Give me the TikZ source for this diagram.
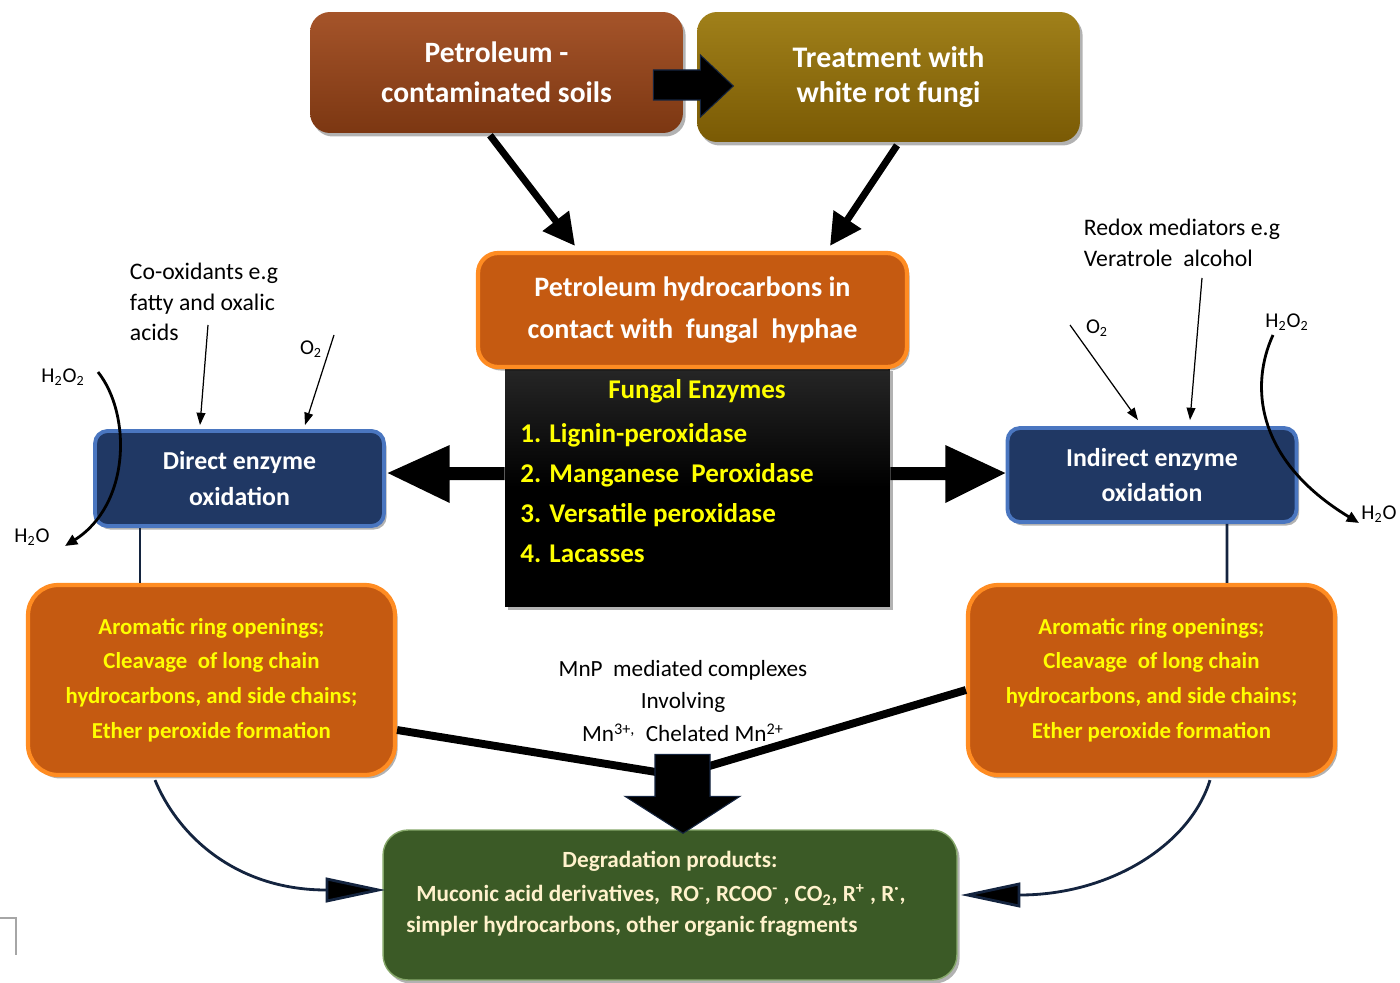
\documentclass[tikz,border=0pt]{standalone}
\usepackage{fontspec}
\setmainfont{Carlito}
\usetikzlibrary{arrows.meta,calc,shadows}
\definecolor{petA}{HTML}{A5542A}
\definecolor{petB}{HTML}{7C3712}
\definecolor{trA}{HTML}{A0801A}
\definecolor{trB}{HTML}{7A5A04}
\definecolor{orgfill}{HTML}{C55A11}
\definecolor{orgline}{HTML}{FF8C22}
\definecolor{navyfill}{HTML}{203864}
\definecolor{navyline}{HTML}{4A76C0}
\definecolor{grfill}{HTML}{3B5A26}
\definecolor{grline}{HTML}{86A86A}
\definecolor{cream}{HTML}{FFF2CC}
\definecolor{yel}{HTML}{FFFF00}
\definecolor{darknavy}{HTML}{14243F}
\begin{document}
\begin{tikzpicture}[x=0.02cm,y=-0.02cm,
  shd/.style={drop shadow={shadow xshift=1.5pt,shadow yshift=-2pt,opacity=.3,fill=black}},
  topbox/.style={rounded corners=0.4cm, text=white, align=center, shd, inner sep=0pt},
  hydbox/.style={rounded corners=0.4cm, fill=orgfill, draw=orgline, line width=2.4pt, text=white, align=center, shd, inner sep=0pt,
     font=\bfseries\fontsize{16}{23.8}\selectfont},
  enzbox/.style={top color=black!85, bottom color=black, middle color=black, shd, inner sep=0pt},
  oxbox/.style={rounded corners=0.25cm, fill=navyfill, draw=navyline, line width=2.2pt, text=white, align=center, shd, inner sep=0pt,
     font=\bfseries\fontsize{14.7}{20.4}\selectfont, minimum width=5.78cm, minimum height=1.9cm},
  resbox/.style={rounded corners=0.6cm, fill=orgfill, draw=orgline, line width=2.4pt, text=yel, align=center, shd, inner sep=0pt,
     font=\bfseries\fontsize{13}{19.8}\selectfont, minimum width=7.34cm, minimum height=3.8cm},
  grbox/.style={rounded corners=0.5cm, fill=grfill, draw=grline, line width=0.8pt, shd, inner sep=0pt},
  grtext/.style={text=cream, font=\bfseries\fontsize{13.2}{18.4}\selectfont, inner sep=0pt},
  enztext/.style={text=yel, font=\bfseries\fontsize{15.4}{22.7}\selectfont, inner sep=0pt},
  note/.style={text=black, font=\fontsize{13.5}{17.3}\selectfont, inner sep=0pt, align=left},
  chem/.style={text=black, font=\fontsize{12}{14}\selectfont, inner sep=0pt},
  bigarr/.style={line width=4pt, -{Triangle[length=18pt,width=18pt]}},
  thinarr/.style={line width=0.7pt, -{Triangle[length=7pt,width=5pt]}},
  curvarr/.style={line width=1.6pt, -{Triangle[length=7pt,width=6pt]}},
  navyarr/.style={draw=darknavy, line width=1.6pt, -{Triangle[length=34pt,width=14pt,fill=black]}},
  blk/.style={fill=black, draw=darknavy, line width=0.6pt},
  thick line/.style={line width=4.5pt, black}
]
\useasboundingbox (0,0) rectangle (1400,983);

% ---------- top boxes ----------
\node[topbox, top color=petA, bottom color=petB, minimum width=7.46cm, minimum height=2.42cm,
      font=\bfseries\fontsize{16.8}{22.7}\selectfont] (pet) at (496.5,72.5) {Petroleum -\\contaminated soils};
\node[topbox, top color=trA, bottom color=trB, minimum width=7.66cm, minimum height=2.6cm,
      font=\bfseries\fontsize{17}{20.4}\selectfont] (treat) at (888.5,77) {Treatment with\\white rot fungi};

% block arrow between top boxes
\filldraw[blk, shift={(pet.east)}] (-30,-2.5) -- (17,-2.5) -- (17,-17.5) -- (50,13.5) -- (17,44.5) -- (17,27.5) -- (-30,27.5) -- cycle;

% ---------- centre ----------
\node[enzbox, minimum width=7.7cm, minimum height=4.8cm] (enz) at (697.5,487) {};
\node[hydbox, minimum width=8.58cm, minimum height=2.28cm] (hyd) at (692.5,310) {Petroleum hydrocarbons in\\contact with\ \ fungal\ \ hyphae};
\node[enztext] (enzt) at (697,391) {Fungal Enzymes};
\node[enztext, align=left, anchor=west] (enzl) at (520,493) {1. Lignin-peroxidase\\2. Manganese\ \ Peroxidase\\3. Versatile peroxidase\\4. Lacasses};

\draw[bigarr] ($(pet.south)+(-6.5,2)$) -- ($(hyd.north)+(-117.5,-5)$);
\draw[bigarr] ($(treat.south)+(8.5,3)$) -- ($(hyd.north)+(137.5,-5)$);

% ---------- oxidation boxes ----------
\node[oxbox] (direct) at (239.5,478.5) {Direct enzyme\\oxidation};
\node[oxbox, minimum height=1.88cm] (indirect) at (1152,475) {Indirect enzyme\\oxidation};

\fill[black, shift={(enz.west)}] (0,-20) -- (-55,-20) -- (-55,-42) -- (-117,-14) -- (-55,16) -- (-55,-7) -- (0,-7) -- cycle;
\fill[black, shift={(enz.east)}] (0,-20) -- (55,-20) -- (55,-42) -- (115,-14) -- (55,16) -- (55,-7) -- (0,-7) -- cycle;

% ---------- annotations left ----------
\node[note] (co) at (204,302) {Co-oxidants e.g\\fatty and oxalic\\acids};
\node[chem] (o2l) at (311,349) {O\textsubscript{2}};
\node[chem] (h2o2l) at (63,377) {H\textsubscript{2}O\textsubscript{2}};
\node[chem] (h2ol) at (32,537) {H\textsubscript{2}O};
\coordinate (coS) at (208,325);
\coordinate (o2lS) at (334,335);
\coordinate (hlS) at (98,372);
\coordinate (hlE) at (65,546);
\draw[thinarr] (coS) -- ($(direct.north)+(-39.5,-4)$);
\draw[thinarr] (o2lS) -- ($(direct.north)+(65.5,-4)$);
\draw[curvarr] (hlS) .. controls (132,415) and (130,505) .. (hlE);

% ---------- annotations right ----------
\node[note] (redox) at (1182,243) {Redox mediators e.g\\Veratrole\ \ alcohol};
\node[chem] (o2r) at (1097,328) {O\textsubscript{2}};
\node[chem] (h2o2r) at (1287,322) {H\textsubscript{2}O\textsubscript{2}};
\node[chem] (h2or) at (1379,514) {H\textsubscript{2}O};
\coordinate (rdS) at (1202,278);
\coordinate (o2rS) at (1070,325);
\coordinate (hrS) at (1273,335);
\coordinate (hrE) at (1359,523);
\draw[thinarr] (rdS) -- ($(indirect.north)+(38,-6)$);
\draw[thinarr] (o2rS) -- ($(indirect.north)+(-14,-6)$);
\draw[curvarr] (hrS) .. controls (1250,385) and (1255,460) .. (hrE);

% ---------- result boxes ----------
\node[resbox] (lbox) at (211.5,680) {Aromatic ring openings;\\Cleavage\ \ of long chain\\hydrocarbons, and side chains;\\Ether peroxide formation};
\node[resbox] (rbox) at (1151.5,680) {Aromatic ring openings;\\Cleavage\ \ of long chain\\hydrocarbons, and side chains;\\Ether peroxide formation};

\draw[darknavy, line width=1.6pt] ($(direct.south)+(-99.5,0)$) -- ($(lbox.north)+(-71.5,0)$);
\draw[darknavy, line width=1.6pt] ($(indirect.south)+(75,0)$) -- ($(rbox.north)+(75.5,0)$);

% ---------- degradation products ----------
\node[grbox, minimum width=11.48cm, minimum height=3.0cm] (green) at (670,905) {};
\node[grtext] (g1) at (670,861) {Degradation products:};
\node[grtext] (g2) at (661,895) {Muconic acid derivatives,\ \ RO\textsuperscript{-}, RCOO\textsuperscript{-} , CO\textsubscript{2}, R\textsuperscript{+} , R\textsuperscript{·},};
\node[grtext, anchor=west] (g3) at (406,926) {simpler hydrocarbons, other organic fragments};

\node[note, align=center, font=\fontsize{13.2}{18.7}\selectfont] (mnp) at (683,701) {MnP\ \ mediated complexes\\Involving\\Mn\textsuperscript{3+,}\ \ Chelated Mn\textsuperscript{2+}};

\coordinate (mL) at ($(green.north)+(-12,-57)$);
\coordinate (mR) at ($(green.north)+(35,-62)$);
\draw[thick line] ($(lbox.east)+(0,50)$) -- (mL);
\draw[thick line] ($(rbox.west)+(0,10)$) -- (mR);
\filldraw[blk, shift={(green.north)}] (-15,-75) -- (40,-75) -- (40,-33) -- (70,-33) -- (13,4) -- (-45,-33) -- (-15,-33) -- cycle;

\draw[navyarr] ($(lbox.south)+(-56.5,3)$) .. controls (180,840) and (240,890) .. ($(green.west)+(3,-15)$);
\draw[navyarr] ($(rbox.south)+(58.5,3)$) .. controls (1190,845) and (1110,895) .. ($(green.east)+(3,-10)$);

% corner mark
\draw[gray!70, line width=0.6pt] (0,918) -- (16,918) -- (16,955);
\end{tikzpicture}
\end{document}
